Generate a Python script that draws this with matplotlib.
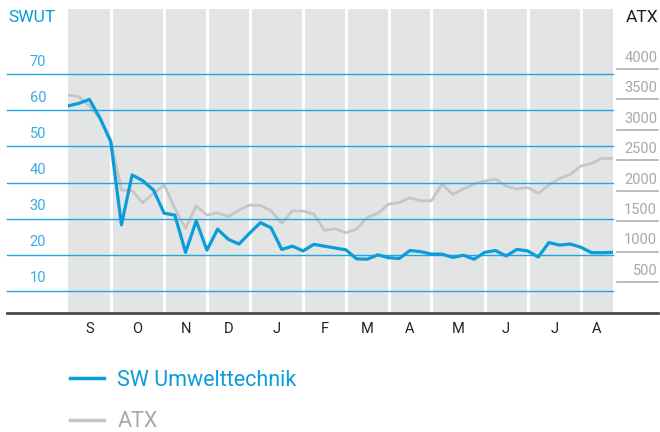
import matplotlib
matplotlib.use("Agg")
import matplotlib.pyplot as plt
from matplotlib.lines import Line2D
import numpy as np

plt.rcParams["font.family"] = ["Roboto", "DejaVu Sans"]

# weekly closing values, Sep .. Aug
SWUT = [61.2, 61.9, 63.0, 57.8, 51.3, 28.3, 42.1, 40.5, 37.9, 31.5, 31.0, 20.7,
        29.4, 21.3, 27.1, 24.3, 23.0, 26.0, 28.9, 27.5, 21.5, 22.4, 21.1, 22.9,
        22.4, 21.9, 21.4, 18.9, 18.8, 20.0, 19.2, 19.0, 21.2, 20.9, 20.2, 20.2,
        19.3, 19.9, 18.8, 20.7, 21.2, 19.7, 21.5, 21.1, 19.4, 23.4, 22.7, 23.0,
        22.1, 20.6, 20.6, 20.7]
ATX = [3572, 3544, 3395, 3190, 2833, 2011, 2000, 1802, 1957, 2093, 1710, 1382,
       1750, 1600, 1638, 1573, 1683, 1765, 1760, 1671, 1464, 1671, 1666, 1617,
       1354, 1375, 1310, 1370, 1563, 1628, 1781, 1803, 1885, 1835, 1835, 2110,
       1940, 2030, 2110, 2159, 2192, 2077, 2028, 2055, 1957, 2093, 2203, 2269,
       2406, 2450, 2532, 2532]
MONTHS = ["S", "O", "N", "D", "J", "F", "M", "A", "M", "J", "J", "A"]
WEEKS_PER_MONTH = [4, 5, 4, 4, 5, 4, 4, 4, 5, 4, 5, 3]
SWUT_TICKS = [10, 20, 30, 40, 50, 60, 70]
ATX_TICKS = [500, 1000, 1500, 2000, 2500, 3000, 3500, 4000]

BLUE = "#0a9ddb"
GRID_BLUE = "#22a6e2"
LABEL_BLUE = "#3aace2"
GRAY = "#c6c6c6"
GRAY_TXT = "#a8a8a8"
BAND = "#e3e4e4"

W, H = 660, 432
fig = plt.figure(figsize=(W / 100, H / 100), dpi=100)
x0, x1, yb, yt = 68, 613, 312.5, 9
ax_atx = fig.add_axes([x0 / W, (H - yb) / H, (x1 - x0) / W, (yb - yt) / H])
ax = ax_atx.twinx()

weeks = np.arange(len(SWUT))
edges = np.concatenate([[0], np.cumsum(WEEKS_PER_MONTH)])

ax_atx.set_facecolor(BAND)
ax_atx.set_xlim(0, edges[-1])
ax_atx.set_ylim(0, 4985)
ax.set_ylim(4.06, 88.0)
for a in (ax_atx, ax):
    for s in a.spines.values():
        s.set_visible(False)
    a.set_xticks([])
    a.set_yticks([])

for e in edges[1:-1]:
    ax_atx.axvline(e, color="white", lw=2.2, zorder=1)

ax_atx.plot(weeks, ATX, color=GRAY, lw=2.0, zorder=3, solid_joinstyle="round")

# left scale: gridlines + labels
lx = (7 - x0) / (x1 - x0)
for v in SWUT_TICKS:
    ax.axhline(v, xmin=lx, xmax=1, color=GRID_BLUE, lw=1.0, clip_on=False, zorder=2)
    ax.annotate(str(v), (-0.04, v), xycoords=ax.get_yaxis_transform(),
                xytext=(0, 4), textcoords="offset points",
                ha="right", va="bottom", fontsize=10.5, color=LABEL_BLUE)
ax.plot(weeks, SWUT, color=BLUE, lw=2.3, zorder=4, solid_joinstyle="round")

# right scale: short gray rules + labels
for v in ATX_TICKS:
    ax_atx.plot([1.007, 1.083], [v, v], transform=ax_atx.get_yaxis_transform(),
                color=GRAY_TXT, lw=1.1, clip_on=False)
    ax_atx.annotate(str(v), (1.081, v), xycoords=ax_atx.get_yaxis_transform(),
                    xytext=(0, 3), textcoords="offset points",
                    ha="right", va="bottom", fontsize=10.5, color=GRAY_TXT)

# base line
ax_atx.plot([lx, (658 - x0) / (x1 - x0)], [0, 0], transform=ax_atx.transAxes,
            color="#4a4a4a", lw=2.0, clip_on=False, zorder=5)

centers = (edges[:-1] + edges[1:]) / 2
for c, m in zip(centers, MONTHS):
    ax_atx.text(c, -16.5 / (yb - yt), m, transform=ax_atx.get_xaxis_transform(),
                ha="center", va="center", fontsize=10.5, color="#222222")

fig.text(8 / W, 1 - 18 / H, "SWUT", ha="left", va="center", fontsize=12.5, color=BLUE)
fig.text(658 / W, 1 - 18 / H, "ATX", ha="right", va="center", fontsize=12.5, color="#222222")

handles = [Line2D([], [], color=BLUE, lw=2.5), Line2D([], [], color=GRAY, lw=2.5)]
leg = fig.legend(handles, ["SW Umwelttechnik", "ATX"], loc="upper left",
                 bbox_to_anchor=(70 / W, 1 - 370 / H), frameon=False,
                 fontsize=15.5, labelcolor=[BLUE, GRAY_TXT], handlelength=1.6,
                 handletextpad=0.6, labelspacing=0.95, borderpad=0, borderaxespad=0)

fig.savefig("out.png", dpi=100, facecolor="white")
